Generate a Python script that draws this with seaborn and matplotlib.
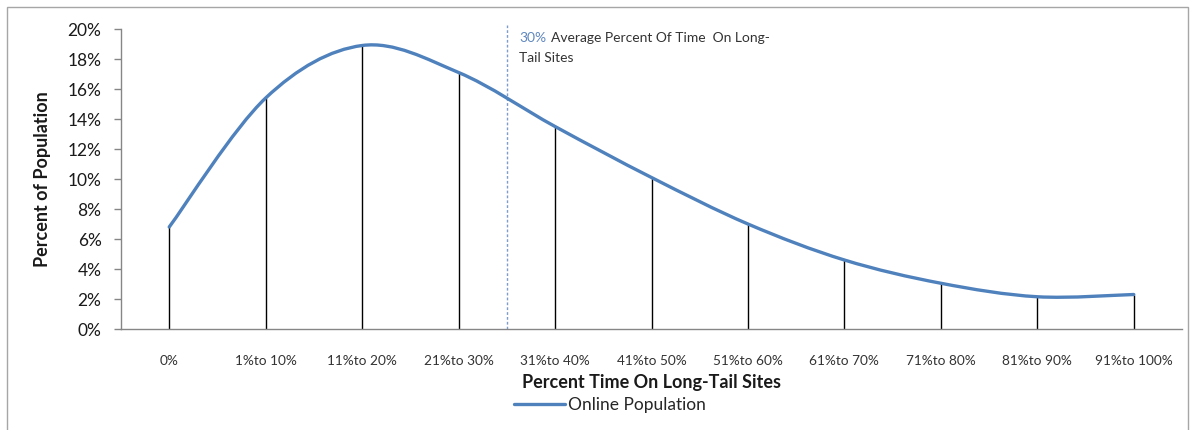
import numpy as np
import matplotlib
matplotlib.use("Agg")
import matplotlib.pyplot as plt
from matplotlib.path import Path
from matplotlib.patches import PathPatch, Rectangle
from matplotlib.lines import Line2D
from matplotlib.ticker import PercentFormatter
import seaborn as sns

# Share of the online population by time spent on long-tail sites
categories = ["0%", "1%to 10%", "11%to 20%", "21%to 30%", "31%to 40%", "41%to 50%",
              "51%to 60%", "61%to 70%", "71%to 80%", "81%to 90%", "91%to 100%"]
population_pct = [6.8, 15.4, 18.9, 17.1, 13.5, 10.1, 7.0, 4.6, 3.05, 2.15, 2.3]
average_position = 3.5  # average share of time (30%) sits between the 4th and 5th category
series_name = "Online Population"

sns.set_style("white")
plt.rcParams["font.family"] = ["Lato", "DejaVu Sans"]

LINE_BLUE = "#4F81BD"
AXIS_GRAY = "#868686"
TEXT = "#1a1a1a"

fig = plt.figure(figsize=(11.94, 4.30), dpi=100)
ax = fig.add_axes([121 / 1194, 1 - 329 / 430, (1182 - 121) / 1194, 300 / 430])

x = np.arange(len(categories))
y = np.asarray(population_pct, dtype=float)

# vertical drop lines from each point to the axis
ax.vlines(x, 0, y, colors="black", linewidth=1.0, zorder=2)

# smoothed connecting line built as cubic Bezier segments through the points
pts = np.column_stack([x, y])
verts = [tuple(pts[0])]
codes = [Path.MOVETO]
n = len(pts)
for i in range(n - 1):
    p_prev = pts[i - 1] if i > 0 else pts[i]
    p0 = pts[i]
    p1 = pts[i + 1]
    p_next = pts[i + 2] if i + 2 < n else pts[i + 1]
    c1 = p0 + (p1 - p_prev) / 6.0
    c2 = p1 - (p_next - p0) / 6.0
    verts += [tuple(c1), tuple(c2), tuple(p1)]
    codes += [Path.CURVE4] * 3
curve = PathPatch(Path(verts, codes), facecolor="none", edgecolor=LINE_BLUE,
                  linewidth=2.4, capstyle="round", joinstyle="round", zorder=3)
ax.add_patch(curve)

# average marker
ax.axvline(average_position, ymin=0, ymax=1.013, color="#7d9cc9", linewidth=1.0,
           linestyle=(0, (2, 1.5)), clip_on=False, zorder=1)
ax.text(average_position + 0.13, 19.4, "30%", color="#5f87c0", fontsize=10,
        va="center", ha="left")
ax.text(average_position + 0.13 + 0.33, 19.4, "Average Percent Of Time  On Long-",
        color="#333333", fontsize=10, va="center", ha="left")
ax.text(average_position + 0.13, 18.1, "Tail Sites", color="#333333", fontsize=10,
        va="center", ha="left")

ax.set_xlim(-0.5, len(categories) - 0.5)
ax.set_ylim(0, 20)
ax.set_yticks(np.arange(0, 21, 2))
ax.yaxis.set_major_formatter(PercentFormatter(decimals=0))
ax.set_xticks(x)
ax.set_xticklabels(categories)

for side in ("top", "right"):
    ax.spines[side].set_visible(False)
for side in ("left", "bottom"):
    ax.spines[side].set_color(AXIS_GRAY)
    ax.spines[side].set_linewidth(1.0)

ax.tick_params(axis="y", which="major", left=True, length=5, width=1, color=AXIS_GRAY,
               labelsize=12.5, labelcolor=TEXT, pad=9)
ax.tick_params(axis="x", which="major", bottom=False, labelsize=9.8, labelcolor="#333333",
               pad=15)

ax.set_xlabel("Percent Time On Long-Tail Sites", fontsize=13, fontweight="bold",
              color=TEXT, labelpad=5)
ax.set_ylabel("Percent of Population", fontsize=13, fontweight="bold", color=TEXT,
              labelpad=12)

handle = Line2D([], [], color=LINE_BLUE, linewidth=2.4)
fig.legend([handle], [series_name], loc="center", bbox_to_anchor=(610 / 1194, 1 - 405 / 430),
           frameon=False, fontsize=12.5, handlelength=2.9, handletextpad=0.2,
           borderaxespad=0, borderpad=0)

# outer chart border
fig.patches.append(Rectangle((7 / 1194, -0.02), 1181 / 1194, 1 - 7 / 430 + 0.02,
                             transform=fig.transFigure, fill=False,
                             edgecolor="#a6a6a6", linewidth=1.0))

fig.savefig("out.png", dpi=100)
